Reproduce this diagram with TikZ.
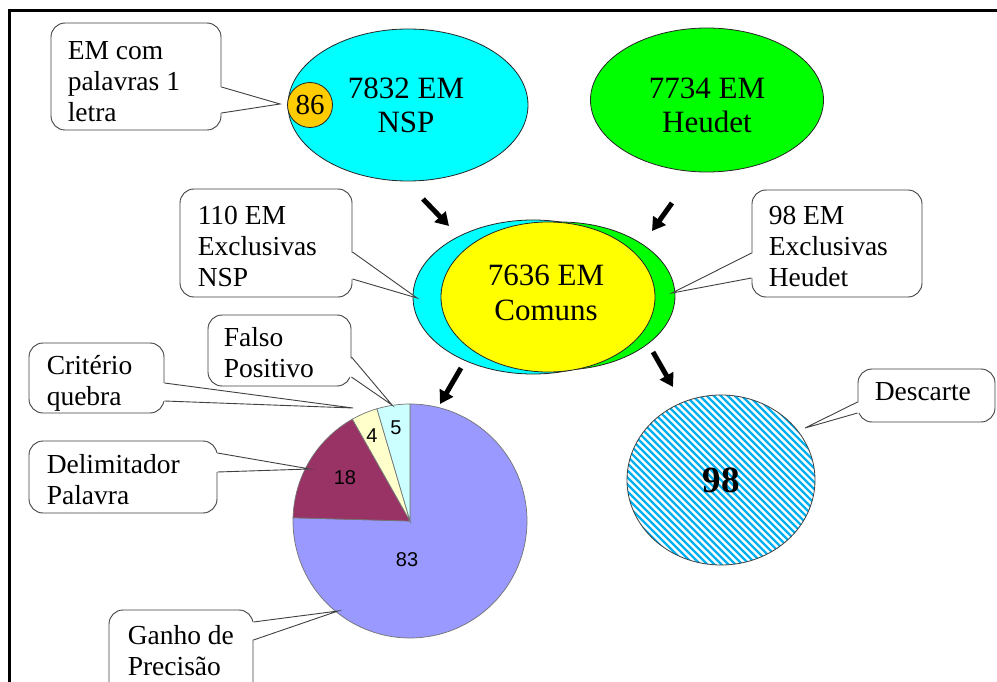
\documentclass[tikz,border=0pt]{standalone}
\usepackage{fontspec}
\setmainfont{Liberation Serif}
\newfontfamily\arialfam{Liberation Sans}
\usetikzlibrary{arrows.meta,calc,shapes.geometric}

\newcommand\calloutfont{\fontsize{27.5}{30.8}\selectfont}
\newcommand\ellipsefont{\fontsize{31}{34.5}\selectfont}

\definecolor{nspcyan}{RGB}{0,255,255}
\definecolor{heugreen}{RGB}{0,255,0}
\definecolor{comyellow}{RGB}{255,255,0}
\definecolor{orangec}{RGB}{255,204,0}
\definecolor{pieblue}{RGB}{153,153,255}
\definecolor{piemaroon}{RGB}{153,51,102}
\definecolor{pieyellow}{RGB}{255,255,204}
\definecolor{piecyan}{RGB}{204,255,255}
\definecolor{hatchblue}{RGB}{0,176,240}

\begin{document}
\begin{tikzpicture}[x=1pt,y=-1pt,
  ell/.style={ellipse, draw=black!85, line width=0.8pt, inner sep=0pt},
  elltext/.style={font=\ellipsefont, align=center, inner sep=0pt, anchor=base},
  calloutbox/.style={rectangle, rounded corners=14pt, draw=black!75, fill=white, line width=0.9pt, inner sep=0pt},
  callouttext/.style={font=\calloutfont, align=flush left, inner sep=0pt, anchor=base west},
  pointerline/.style={draw=black!75, line width=0.9pt},
  bigarrow/.style={line width=5pt, -{Triangle[width=15pt,length=13pt]}},
  pieslice/.style={draw=black!55, line width=0.7pt},
  pienum/.style={font=\arialfam\fontsize{20}{22}\selectfont, inner sep=0pt},
  hatchline/.style={hatchblue, line width=2.2pt}]

\useasboundingbox (0,0) rectangle (997,682);

% frame
\draw[line width=3pt] (9,690) -- (9,11) -- (1005,11);

% top ellipses
\node[ell, fill=nspcyan, minimum width=240, minimum height=152] (nsp) at (408,105) {};
\node[elltext] (nspt) at ($(nsp.center)+(-2,28)$) {7832 EM\\NSP};
\node[circle, draw=black!85, line width=0.8pt, fill=orangec, inner sep=0pt, minimum size=45] (one) at (310,105) {};
\node[font=\fontsize{29}{31}\selectfont, inner sep=0pt, anchor=base] (onet) at ($(one.center)+(0,10)$) {86};
\node[ell, fill=heugreen, minimum width=233, minimum height=144] (heu) at (707,100) {};
\node[elltext] (heut) at ($(heu.center)+(0,33)$) {7734 EM\\Heudet};

% middle ellipses
\node[ell, fill=nspcyan, minimum width=240, minimum height=154] (exn) at (533,297) {};
\node[ell, fill=heugreen, minimum width=230, minimum height=148] (exh) at (560,296) {};
\node[ell, fill=comyellow, minimum width=214, minimum height=150] (com) at (548,297) {};
\node[elltext] (comt) at ($(com.center)+(-2,23)$) {7636 EM\\Comuns};

% arrows
\coordinate (a1s) at (423,199); \coordinate (a1e) at (449,226);
\coordinate (a2s) at (672,203); \coordinate (a2e) at (652,231);
\coordinate (a3s) at (461,368); \coordinate (a3e) at (440,404);
\coordinate (a4s) at (653,352); \coordinate (a4e) at (673,387);
\draw[bigarrow] (a1s) -- (a1e);
\draw[bigarrow] (a2s) -- (a2e);
\draw[bigarrow] (a3s) -- (a3e);
\draw[bigarrow] (a4s) -- (a4e);

% pie
\begin{scope}[shift={(410,521)}, y=1pt]
  \filldraw[pieslice, fill=pieblue] (0,0) -- (90:117) arc[start angle=90, end angle=-181.6, radius=117] -- cycle;
  \filldraw[pieslice, fill=piemaroon] (0,0) -- (178.4:117) arc[start angle=178.4, end angle=119.5, radius=117] -- cycle;
  \filldraw[pieslice, fill=pieyellow] (0,0) -- (119.5:117) arc[start angle=119.5, end angle=106.4, radius=117] -- cycle;
  \filldraw[pieslice, fill=piecyan] (0,0) -- (106.4:117) arc[start angle=106.4, end angle=90, radius=117] -- cycle;
\end{scope}
\node[pienum] (n5) at (396,428) {5};
\node[pienum] (n4) at (372,436) {4};
\node[pienum] (n18) at (345,478) {18};
\node[pienum] (n83) at (407,560) {83};

% hatched circle
\begin{scope}
  \clip (721,480) ellipse [x radius=94, y radius=85];
  \foreach \i in {-40,...,40} {
    \draw[hatchline] ({721+3.5*\i-120},{480-3.5*\i-120}) -- ({721+3.5*\i+120},{480-3.5*\i+120});
  }
\end{scope}
\node[ellipse, draw=black!75, line width=0.8pt, inner sep=0pt, minimum width=188, minimum height=170] (desc) at (721,480) {};
\node[font=\fontsize{37}{40}\selectfont\bfseries, inner sep=0pt, anchor=base] (desct) at ($(desc.center)+(0,12)$) {98};

% callout tips
\coordinate (t1) at (280,104);
\coordinate (t2) at (417,298);
\coordinate (t3) at (672,293);
\coordinate (t4) at (392,405);
\coordinate (t5) at (353,408);
\coordinate (t6) at (310,469);
\coordinate (t7) at (338,611);
\coordinate (t8) at (805,428);

% callouts (text nodes anchored at the baseline of their last line)
\node[calloutbox, minimum width=170, minimum height=107] (c1) at (136,76.5) {};
\node[callouttext] (c1t) at ($(c1.north west)+(17,98.6)$) {EM com\\palavras 1\\letra};
\fill[white] ($(c1.east)+(-2,10.5)$) -- (t1) -- ($(c1.east)+(-2,36.5)$) -- cycle;
\draw[pointerline] ($(c1.east)+(0,10.5)$) -- (t1) -- ($(c1.east)+(0,36.5)$);

\node[calloutbox, minimum width=172, minimum height=108] (c2) at (266,243) {};
\node[callouttext] (c2t) at ($(c2.north west)+(18,97.6)$) {110 EM\\Exclusivas\\NSP};
\fill[white] ($(c2.east)+(-2,9)$) -- (t2) -- ($(c2.east)+(-2,36)$) -- cycle;
\draw[pointerline] ($(c2.east)+(0,9)$) -- (t2) -- ($(c2.east)+(0,36)$);

\node[calloutbox, minimum width=170, minimum height=107] (c3) at (837,243.5) {};
\node[callouttext] (c3t) at ($(c3.north west)+(17,96.6)$) {98 EM\\Exclusivas\\Heudet};
\fill[white] ($(c3.west)+(2,9.5)$) -- (t3) -- ($(c3.west)+(2,34.5)$) -- cycle;
\draw[pointerline] ($(c3.west)+(0,9.5)$) -- (t3) -- ($(c3.west)+(0,34.5)$);

\node[calloutbox, minimum width=143, minimum height=71] (c4) at (279.5,350.5) {};
\node[callouttext] (c4t) at ($(c4.north west)+(16,62.8)$) {Falso\\Positivo};
\fill[white] ($(c4.east)+(-2,6.5)$) -- (t4) -- ($(c4.east)+(-2,26.5)$) -- cycle;
\draw[pointerline] ($(c4.east)+(0,6.5)$) -- (t4) -- ($(c4.east)+(0,26.5)$);

\node[calloutbox, minimum width=135, minimum height=70] (c5) at (96.5,378) {};
\node[callouttext] (c5t) at ($(c5.north west)+(18,62.8)$) {Critério\\quebra};
\fill[white] ($(c5.east)+(-2,5)$) -- (t5) -- ($(c5.east)+(-2,23)$) -- cycle;
\draw[pointerline] ($(c5.east)+(0,5)$) -- (t5) -- ($(c5.east)+(0,23)$);

\node[calloutbox, minimum width=188, minimum height=72] (c6) at (123,477) {};
\node[callouttext] (c6t) at ($(c6.north west)+(18,63.8)$) {Delimitador\\Palavra};
\fill[white] ($(c6.east)+(-2,-24)$) -- (t6) -- ($(c6.east)+(-2,-5)$) -- cycle;
\draw[pointerline] ($(c6.east)+(0,-24)$) -- (t6) -- ($(c6.east)+(0,-5)$);

\node[calloutbox, minimum width=144, minimum height=90] (c7) at (181,655) {};
\node[callouttext] (c7t) at ($(c7.north west)+(19,66)$) {Ganho de\\Precisão};
\fill[white] ($(c7.east)+(-2,-33)$) -- (t7) -- ($(c7.east)+(-2,-15)$) -- cycle;
\draw[pointerline] ($(c7.east)+(0,-33)$) -- (t7) -- ($(c7.east)+(0,-15)$);

\node[calloutbox, minimum width=137, minimum height=53] (c8) at (926.5,395.5) {};
\node[callouttext] (c8t) at ($(c8.north west)+(17,32)$) {Descarte};
\fill[white] ($(c8.west)+(2,6.5)$) -- (t8) -- ($(c8.west)+(2,17.5)$) -- cycle;
\draw[pointerline] ($(c8.west)+(0,6.5)$) -- (t8) -- ($(c8.west)+(0,17.5)$);

\end{tikzpicture}
\end{document}
